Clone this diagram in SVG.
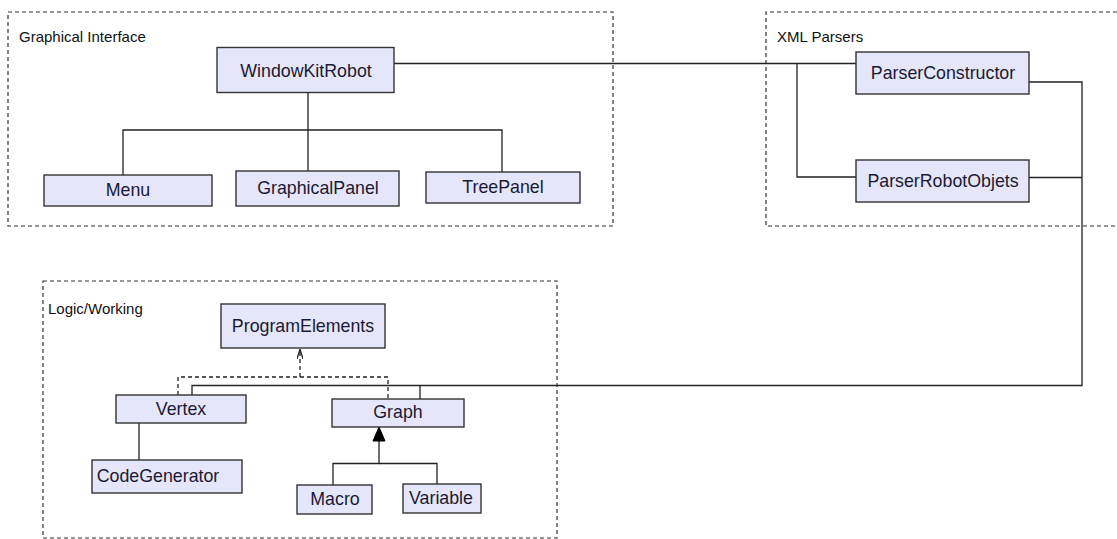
<svg xmlns="http://www.w3.org/2000/svg" width="1117" height="539" viewBox="0 0 1117 539">
  <style>
    .frame { fill: none; stroke: #333; stroke-width: 1.2; stroke-dasharray: 4 3; }
    .frame-label { font-family: "Liberation Sans", Arial, sans-serif; font-size: 15px; fill: #111; }
    .box { fill: #e6e6fa; stroke: #333; stroke-width: 1.4; }
    .box-label { font-family: "Liberation Sans", Arial, sans-serif; font-size: 17.8px; fill: #1a1a33; text-anchor: middle; }
    .link { fill: none; stroke: #222; stroke-width: 1.3; }
    .dep { fill: none; stroke: #222; stroke-width: 1.3; stroke-dasharray: 4 3; }
  </style>
  <defs>
    <marker id="open-arrow" viewBox="0 0 10 6" refX="10" refY="3" markerWidth="10" markerHeight="6" markerUnits="userSpaceOnUse" orient="auto">
      <path d="M0,0 L10,3 L0,6" fill="none" stroke="#222" stroke-width="1.3"/>
    </marker>
  </defs>
  <rect width="1117" height="539" fill="#fff"/>

  <!-- packages -->
  <g id="pkg-graphical-interface">
    <rect class="frame" x="8" y="12" width="605" height="214"/>
    <text class="frame-label" x="19" y="42">Graphical Interface</text>
  </g>
  <g id="pkg-xml-parsers">
    <path class="frame" d="M1117,12 H766 V226 H1117"/>
    <text class="frame-label" x="777" y="42">XML Parsers</text>
  </g>
  <g id="pkg-logic-working">
    <rect class="frame" x="43" y="281" width="514" height="257"/>
    <text class="frame-label" x="48" y="314">Logic/Working</text>
  </g>

  <!-- connectors -->
  <g id="connectors">
    <!-- WindowKitRobot composition -->
    <path class="link" d="M308,92 V171"/>
    <path class="link" d="M123,175 V130 H502 V172"/>
    <!-- WindowKitRobot to parsers -->
    <path class="link" d="M394,63.5 H856"/>
    <path class="link" d="M797,63.5 V177 H856"/>
    <!-- parsers to logic -->
    <path class="link" d="M1029,82 H1082 V385.5 H192 V395"/>
    <path class="link" d="M1029,177.5 H1082"/>
    <path class="link" d="M420,385.5 V399"/>
    <!-- realization of ProgramElements -->
    <path class="dep" d="M178,395 V377 H388 V399"/>
    <path class="dep" d="M300,377 V349" marker-end="url(#open-arrow)"/>
    <!-- Vertex to CodeGenerator -->
    <path class="link" d="M139,422.5 V460"/>
    <!-- Graph generalization -->
    <path class="link" d="M379,441 V463.5 H333 V485"/>
    <path class="link" d="M379,463.5 H437 V484"/>
    <polygon points="379,427 373,441 385,441" fill="#000" stroke="#000" stroke-width="1"/>
  </g>

  <!-- classes -->
  <g id="node-windowkitrobot">
    <rect class="box" x="217" y="47.5" width="177" height="45"/>
    <text class="box-label" x="306" y="77">WindowKitRobot</text>
  </g>
  <g id="node-menu">
    <rect class="box" x="44" y="175" width="168" height="31"/>
    <text class="box-label" x="128" y="196">Menu</text>
  </g>
  <g id="node-graphicalpanel">
    <rect class="box" x="236" y="171" width="163" height="35"/>
    <text class="box-label" x="318" y="194">GraphicalPanel</text>
  </g>
  <g id="node-treepanel">
    <rect class="box" x="426" y="172" width="154" height="31"/>
    <text class="box-label" x="503" y="193">TreePanel</text>
  </g>
  <g id="node-parserconstructor">
    <rect class="box" x="856" y="52" width="173" height="42"/>
    <text class="box-label" x="943" y="79">ParserConstructor</text>
  </g>
  <g id="node-parserrobotobjets">
    <rect class="box" x="856" y="160" width="173" height="42"/>
    <text class="box-label" x="943" y="187">ParserRobotObjets</text>
  </g>
  <g id="node-programelements">
    <rect class="box" x="221" y="304" width="164" height="44"/>
    <text class="box-label" x="303" y="332">ProgramElements</text>
  </g>
  <g id="node-vertex">
    <rect class="box" x="116" y="395" width="130" height="28"/>
    <text class="box-label" x="181" y="415">Vertex</text>
  </g>
  <g id="node-graph">
    <rect class="box" x="332" y="399" width="132" height="28"/>
    <text class="box-label" x="398" y="418">Graph</text>
  </g>
  <g id="node-codegenerator">
    <rect class="box" x="92" y="460" width="150" height="33"/>
    <text class="box-label" x="158" y="482">CodeGenerator</text>
  </g>
  <g id="node-macro">
    <rect class="box" x="297" y="485" width="75" height="29"/>
    <text class="box-label" x="335" y="505">Macro</text>
  </g>
  <g id="node-variable">
    <rect class="box" x="403" y="484" width="78" height="29"/>
    <text class="box-label" x="441" y="504">Variable</text>
  </g>
</svg>
